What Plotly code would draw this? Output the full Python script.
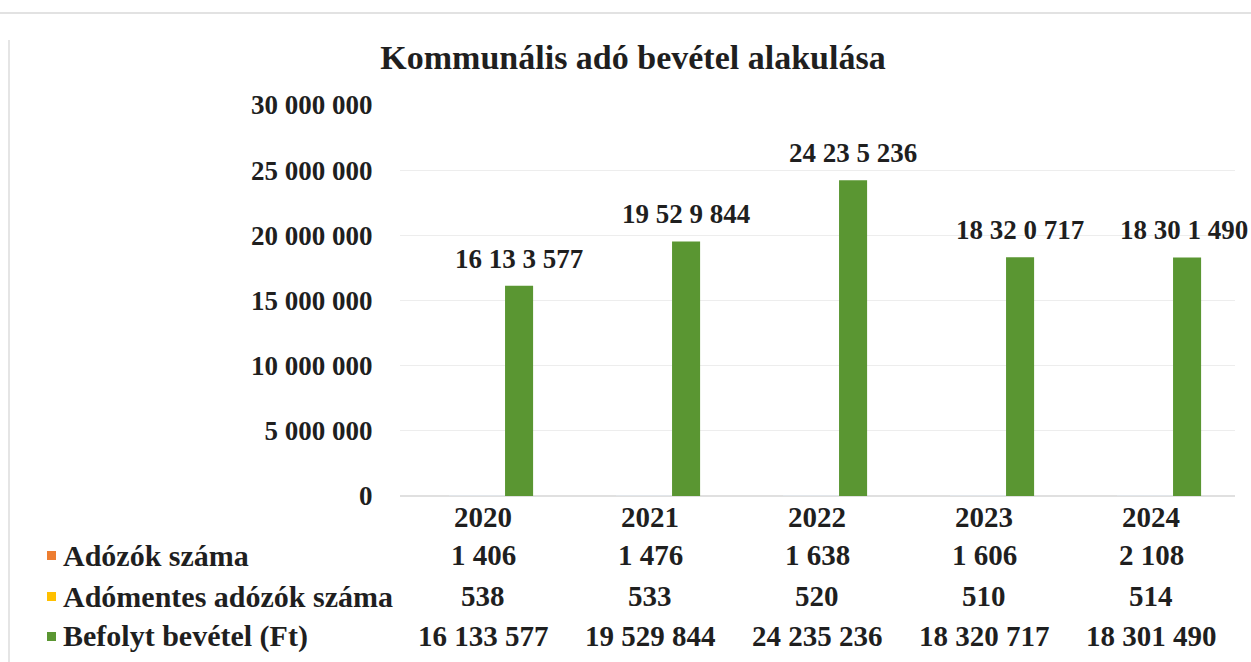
import plotly.graph_objects as go

# ---- data ----
years = ["2020", "2021", "2022", "2023", "2024"]
adozok = [1406, 1476, 1638, 1606, 2108]
adomentes = [538, 533, 520, 510, 514]
befolyt = [16133577, 19529844, 24235236, 18320717, 18301490]
bar_labels = ["16 13 3 577", "19 52 9 844", "24 23 5 236", "18 32 0 717", "18 30 1 490"]
series_names = ["Adózók száma", "Adómentes adózók száma", "Befolyt bevétel (Ft)"]
y_ticks = [0, 5000000, 10000000, 15000000, 20000000, 25000000, 30000000]

colors = ["#ED7D31", "#FFC000", "#5A9632"]
FONT = "Liberation Serif"
TXT = "#1f1f1f"

W, H = 1251, 662
def px(x):
    return x / W
def py(y):
    return 1 - y / H

def fmt(n):
    return f"{n:,}".replace(",", " ")

xs = list(range(len(years)))
bw = 0.168
green_off = 0.132

fig = go.Figure()
fig.add_trace(go.Bar(x=xs, y=adozok, name=series_names[0], marker_color=colors[0],
                     width=bw, offset=green_off - 2 * bw))
fig.add_trace(go.Bar(x=xs, y=adomentes, name=series_names[1], marker_color=colors[1],
                     width=bw, offset=green_off - bw))
fig.add_trace(go.Bar(x=xs, y=befolyt, name=series_names[2], marker_color=colors[2],
                     width=bw, offset=green_off, marker_line_width=0))

annotations = []
# bar data labels
for i, v in enumerate(befolyt):
    annotations.append(dict(x=i + green_off + bw / 2, y=v, xref="x", yref="y",
                            text=f"<b>{bar_labels[i]}</b>", showarrow=False, yanchor="bottom",
                            yshift=10, xshift=-3 if i == len(befolyt) - 1 else 0,
                            font=dict(family=FONT, size=27, color=TXT)))

# data table
row_y = [517, 555, 596, 636]
table_rows = [adozok, adomentes, befolyt]
for i, yr in enumerate(years):
    annotations.append(dict(x=i, y=py(row_y[0]), xref="x", yref="paper", text=f"<b>{yr}</b>",
                            showarrow=False, yanchor="middle",
                            font=dict(family=FONT, size=29, color=TXT)))
    for r, row in enumerate(table_rows):
        annotations.append(dict(x=i, y=py(row_y[r + 1]), xref="x", yref="paper",
                                text=f"<b>{fmt(row[i])}</b>", showarrow=False, yanchor="middle",
                                font=dict(family=FONT, size=29, color=TXT)))
shapes = []
for r, name in enumerate(series_names):
    yc = row_y[r + 1]
    annotations.append(dict(x=px(61), y=py(yc), xref="paper", yref="paper", text=f"<b>{name}</b>",
                            showarrow=False, xanchor="left", yanchor="middle",
                            font=dict(family=FONT, size=30, color=TXT)))
    shapes.append(dict(type="rect", xref="paper", yref="paper",
                       x0=px(47), x1=px(56), y0=py(yc + 5), y1=py(yc - 4),
                       fillcolor=colors[r], line_width=0))

# chart border (faint)
shapes.append(dict(type="line", xref="paper", yref="paper", x0=0, x1=1,
                   y0=py(13), y1=py(13), line=dict(color="#d8d8d8", width=1.5)))
shapes.append(dict(type="line", xref="paper", yref="paper", x0=px(9), x1=px(9),
                   y0=py(40), y1=0, line=dict(color="#dddddd", width=1.5)))

fig.update_layout(
    width=W, height=H,
    margin=dict(l=0, r=0, t=0, b=0, autoexpand=False),
    paper_bgcolor="white", plot_bgcolor="white",
    showlegend=False,
    title=dict(text="<b>Kommunális adó bevétel alakulása</b>", x=0.506, xanchor="center",
               y=py(57), yanchor="middle", font=dict(family=FONT, size=34, color=TXT)),
    xaxis=dict(domain=[px(399.5), px(1234.5)], range=[-0.5, 4.5], showticklabels=False,
               showgrid=False, zeroline=False, showline=False, fixedrange=True),
    yaxis=dict(domain=[py(496), py(105)], range=[0, 30000000], tickvals=y_ticks,
               ticktext=[f"<b>{fmt(t)}</b>" for t in y_ticks],
               showgrid=True, gridcolor="#ededed", gridwidth=1, automargin=False,
               zeroline=True, zerolinecolor="#e0e0e0", ticklabelstandoff=26,
               tickfont=dict(family=FONT, size=27, color=TXT)),
    annotations=annotations,
    shapes=shapes,
)

fig.write_html("out.html", config={"displayModeBar": False},
               post_script="document.body.style.margin='0';document.body.style.overflow='hidden';")
